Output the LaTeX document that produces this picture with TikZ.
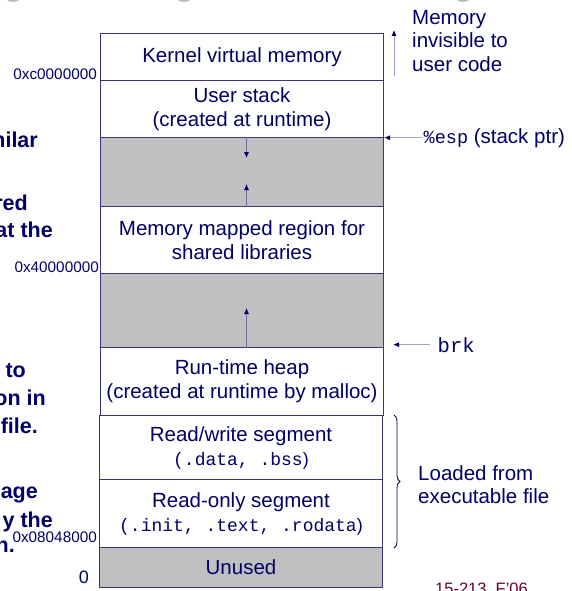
\documentclass[tikz,border=0pt]{standalone}
\usepackage{fontspec}
\setmainfont{Liberation Sans}
\setmonofont{Liberation Mono}
\usepackage{xcolor}
\usetikzlibrary{arrows.meta,decorations.pathreplacing}
\definecolor{navy}{RGB}{0,0,102}
\definecolor{boxline}{RGB}{55,55,125}
\definecolor{holegray}{RGB}{192,192,192}
\definecolor{growline}{RGB}{110,110,165}
\definecolor{reachline}{RGB}{160,160,205}
\definecolor{maroon}{RGB}{102,0,51}
\definecolor{dotgray}{RGB}{185,185,185}

\begin{document}
\begin{tikzpicture}[x=1pt, y=-1pt,
    seg/.style={draw=boxline, line width=1pt, minimum width=283pt, inner sep=0pt,
        anchor=north west, text=navy, align=center, font=\fontsize{20.5}{24}\selectfont},
    hole/.style={seg, fill=holegray},
    addr/.style={anchor=base east, inner sep=0pt, text=navy, font=\fontsize{15.3}{18}\selectfont},
    side/.style={anchor=base east, inner sep=0pt, text=navy, font=\bfseries\fontsize{21.5}{24}\selectfont},
    note/.style={inner sep=0pt, text=navy, align=left, font=\fontsize{20.5}{23.5}\selectfont},
    growarrow/.style={draw=growline, line width=0.8pt, -{Latex[length=6pt,width=5pt,color=navy]}},
    reacharrow/.style={draw=reachline, line width=0.8pt, -{Latex[length=6pt,width=5pt,color=navy]}}]
    \useasboundingbox (0,0) rectangle (571,591);
    % bits of the title row above
    \foreach \cx in {13,184,463}
        \fill[dotgray] (\cx,-9.5) circle (11.5pt);
    % the address space, top to bottom
    \node[seg, minimum height=47pt] (kernel) at (100,33) {Kernel virtual memory};
    \node[seg, minimum height=57pt] (ustack) at (100,80) {User stack\\(created at runtime)};
    \node[hole, minimum height=69pt] (gapa) at (100,137) {};
    \node[seg, minimum height=67pt] (mmap) at (100,206) {Memory mapped region for\\shared libraries};
    \node[hole, minimum height=74pt] (gapb) at (100,273) {};
    \node[seg, minimum height=68pt] (heap) at (100,347) {Run-time heap\\(created at runtime by malloc)};
    \node[seg, minimum height=64pt] (rw) at (99,415) {Read/write segment\\{\fontsize{18}{22}\selectfont\ttfamily(.data, .bss}\fontsize{18}{22}\selectfont)};
    \node[seg, minimum height=68pt] (ro) at (99,479) {Read-only segment\\{\fontsize{18}{22}\selectfont\ttfamily(.init, .text, .rodata}\fontsize{18}{22}\selectfont)};
    \node[hole, minimum height=40pt] (unused) at (99,547) {Unused};
    % growth arrows
    \draw[growarrow] ([xshift=4.5pt]gapa.north) -- ++(0,21);
    \draw[growarrow] ([xshift=4.5pt]gapa.south) -- ++(0,-23);
    \draw[growarrow] ([xshift=4.5pt]gapb.south) -- ++(0,-40);
    % addresses
    \node[addr] (akernel) at (97,80) {0xc0000000};
    \node[addr] (ammap) at (99,272) {0x40000000};
    \node[addr] (atext) at (97,542) {0x08048000};
    \node[addr, font=\fontsize{18}{20}\selectfont] (azero) at (89,583) {0};
    % right hand notes
    \node[note, anchor=north west] (hidden) at (412,10) {Memory\\invisible to\\user code};
    \draw[reacharrow] ([xshift=10pt,yshift=5pt]kernel.south east) -- ([xshift=10pt,yshift=3pt]kernel.north east);
    \node[note, anchor=base west, inner sep=1.5pt] (esp) at (422,143) {{\fontsize{18.5}{22}\selectfont\ttfamily\%esp} (stack ptr)};
    \draw[reacharrow] (esp.west) -- (esp.west -| ustack.south east);
    \node[note, anchor=base west, inner sep=1.5pt] (brk) at (436,352) {\ttfamily brk};
    \draw[reacharrow, shorten <=6pt, shorten >=9pt] (brk.west) -- (brk.west -| heap.north east);
    \draw[draw=navy, line width=0.8pt, decorate, decoration={brace, amplitude=6pt}]
        ([xshift=11pt]rw.north east) -- ([xshift=11pt]ro.south east);
    \node[note, anchor=north west] (loaded) at (418,465) {Loaded from\\executable file};
    % cut-off slide text on the left
    \node[side] (ta) at (38,147) {milar};
    \node[side] (tb) at (28,210) {red};
    \node[side] (tc) at (53,237) {at the};
    \node[side] (td) at (26,377) {to};
    \node[side] (te) at (46,405) {on in};
    \node[side] (tf) at (38,433) {file.};
    \node[side] (tg) at (38,498) {age};
    \node[side] (th) at (53,527) {y the};
    \node[side] (ti) at (15,552) {n.};
    \node[anchor=base west, inner sep=0pt, text=maroon, font=\fontsize{16.5}{18}\selectfont] (course) at (435,594) {15-213, F'06};
\end{tikzpicture}
\end{document}
